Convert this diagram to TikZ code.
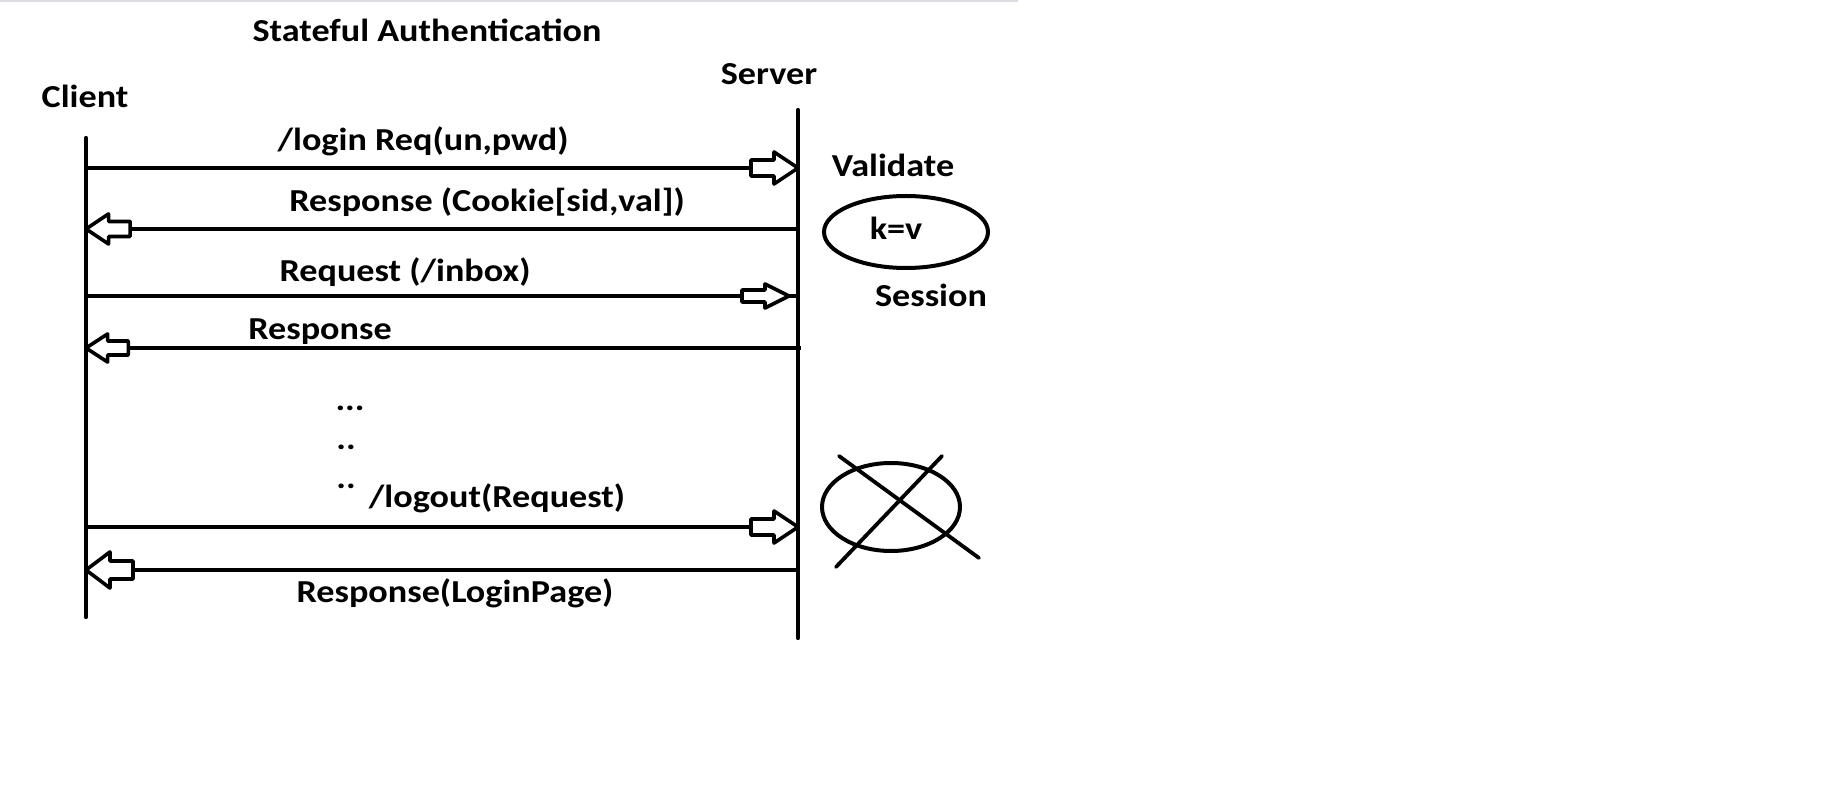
\documentclass[tikz,border=0pt]{standalone}
\usepackage{fontspec}
\setmainfont{Carlito}[FakeStretch=1.13]
\usetikzlibrary{shapes.geometric, calc}

\tikzset{
  lifeline/.style={line width=2.1pt, line cap=round},
  msg/.style={line width=1.9pt},
  lbl/.style={anchor=base, inner sep=0pt, font=\fontsize{16}{19}\selectfont\bfseries},
  store/.style={draw, ellipse, line width=2pt, inner sep=0pt},
  hollow tip/.pic={
    \draw[line width=1.8pt, line join=round, fill=white]
      (0,0) -- (-24,-16) -- (-24,-8) -- (-47,-8) -- (-47,8) -- (-24,8) -- (-24,16) -- cycle;
  }
}

\begin{document}
\begin{tikzpicture}[x=0.5pt, y=-0.5pt]
    \useasboundingbox (0,0) rectangle (1846,806);
    \draw[line width=1.2pt, blue!10!gray!25] (0,1) -- (1018,1);

    % titles and actors
    \node[lbl] (title) at (427,42) {Stateful Authentication};
    \node[lbl] (client) at (85,108) {Client};
    \node[lbl] (server) at (769,85) {Server};

    % lifelines
    \coordinate (ctop) at (86,138);
    \coordinate (cbot) at (86,617);
    \coordinate (stop) at (798,110);
    \coordinate (sbot) at (798,638);
    \draw[lifeline] (ctop) -- (cbot);
    \draw[lifeline] (stop) -- (sbot);

    % message end points
    \foreach \i/\y in {1/168, 2/229, 3/296, 4/348, 5/527, 6/570} {
      \coordinate (c\i) at (86,\y);
      \coordinate (s\i) at (798,\y);
    }

    % messages
    \draw[msg] (c1) -- (s1);
    \pic at (s1) {hollow tip};
    \node[lbl] (login) at (423,151) {/login Req(un,pwd)};

    \draw[msg] (s2) -- (c2);
    \pic[rotate=180, scale=0.94] at (c2) {hollow tip};
    \node[lbl] (cookie) at (487,212) {Response (Cookie[sid,val])};

    \draw[msg] (c3) -- (s3);
    \pic[yscale=0.75] at ($(s3)+(-9,0)$) {hollow tip};
    \node[lbl] (inbox) at (405,282) {Request (/inbox)};

    \draw[msg] (s4) -- ++(3,0);
    \draw[msg] (s4) -- (c4);
    \pic[rotate=180, xscale=0.9, yscale=0.88] at (c4) {hollow tip};
    \node[lbl] (resp) at (320,340) {Response};

    \node[lbl] (dots1) at (350,411) {...};
    \node[lbl] (dots2) at (346,450) {..};
    \node[lbl] (dots3) at (346,488) {..};

    \draw[msg] (c5) -- (s5);
    \pic at (s5) {hollow tip};
    \node[lbl] (logout) at (497,508) {/logout(Request)};

    \draw[msg] (s6) -- (c6);
    \pic[rotate=180, yscale=1.13] at (c6) {hollow tip};
    \node[lbl] (loginpage) at (455,603) {Response(LoginPage)};

    % session store
    \node[lbl] (validate) at (893,177) {Validate};
    \node[store, minimum width=82pt, minimum height=36pt] (session) at (906,232) {};
    \node[lbl] (kv) at (896,240) {k=v};
    \node[lbl] (sesslbl) at (931,307) {Session};

    % destroyed session
    \node[store, minimum width=69pt, minimum height=44pt] (ended) at (891,507) {};
    \coordinate (x1) at (839,456);
    \coordinate (x2) at (979,558);
    \coordinate (x3) at (942,456);
    \coordinate (x4) at (836,567);
    \draw[line width=1.9pt, line cap=round] (x1) -- (x2);
    \draw[line width=1.9pt, line cap=round] (x3) -- (x4);
\end{tikzpicture}
\end{document}
